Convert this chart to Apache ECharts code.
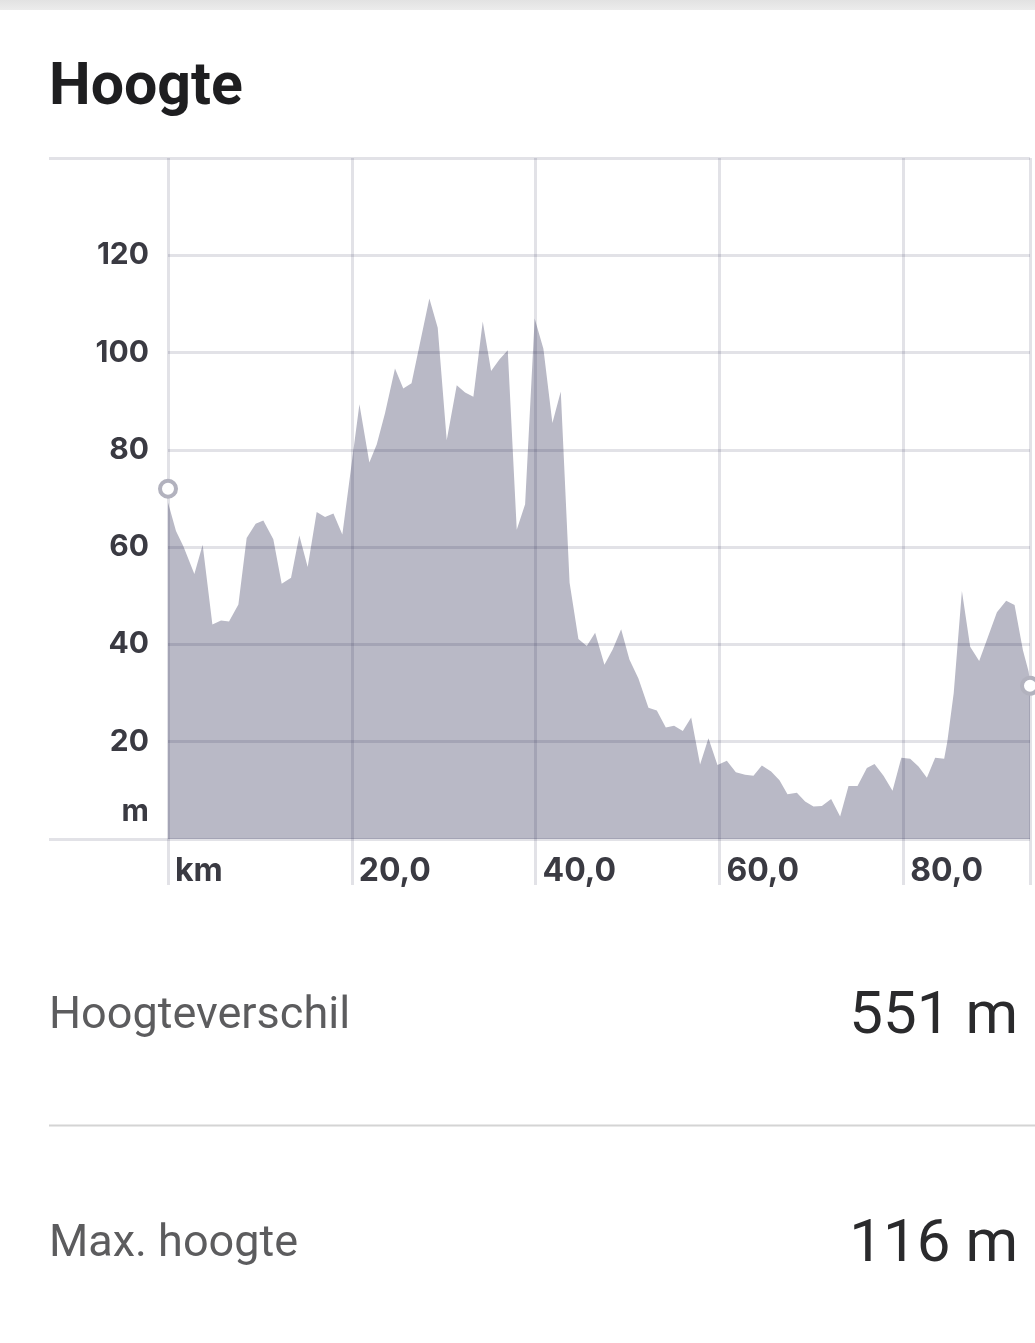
<!DOCTYPE html>
<html><head><meta charset="utf-8">
<script src="https://cdn.jsdelivr.net/npm/echarts@6/dist/echarts.min.js"></script>
<style>html,body{margin:0;padding:0;background:#fff}#c{width:1035px;height:1343px}</style>
</head><body><div id="c"></div>
<script>
const distanceKm = [0, 0.87, 1.67, 2.87, 3.77, 4.83, 5.77, 6.64, 7.66, 8.56, 9.54, 10.37, 11.46, 12.37, 13.39, 14.29, 15.2, 16.18, 17.09, 18.0, 18.97, 20.83, 21.91, 22.71, 23.62, 24.7, 25.6, 26.5, 28.44, 29.35, 30.33, 31.42, 32.33, 33.23, 34.25, 35.16, 36.06, 36.97, 37.95, 38.86, 39.9, 40.85, 41.83, 42.74, 43.7, 44.66, 45.57, 46.48, 47.49, 48.4, 49.31, 50.21, 51.19, 52.28, 53.19, 54.17, 55.07, 56.02, 56.93, 57.9, 58.81, 59.79, 60.81, 61.79, 62.8, 63.71, 64.62, 65.63, 66.54, 67.41, 68.43, 69.33, 70.24, 71.15, 72.16, 73.14, 74.05, 75.03, 76.05, 76.88, 77.86, 78.84, 79.8, 80.76, 81.67, 82.58, 83.48, 84.46, 84.8, 85.5, 86.39, 87.29, 88.27, 89.18, 90.2, 91.21, 92.12, 93.03, 93.64, 93.8];
const elevationM = [69.2, 63.3, 60.2, 54.5, 60.5, 44.1, 44.9, 44.7, 48.2, 61.9, 64.8, 65.5, 61.6, 52.5, 53.7, 62.4, 55.9, 67.2, 66.2, 66.9, 62.6, 89.4, 77.4, 81.1, 87.6, 96.7, 92.6, 93.7, 111.1, 105.1, 82.0, 93.3, 91.8, 90.9, 106.4, 96.2, 98.6, 100.5, 63.6, 68.8, 107.0, 100.8, 85.5, 92.0, 52.7, 41.1, 39.7, 42.4, 35.8, 39.0, 43.1, 36.9, 33.0, 27.0, 26.4, 22.9, 23.3, 22.2, 25.0, 15.3, 20.7, 15.2, 16.1, 13.7, 13.2, 13.0, 15.1, 13.9, 12.1, 9.2, 9.5, 7.7, 6.7, 6.8, 8.2, 4.6, 10.9, 10.9, 14.6, 15.4, 13.0, 9.9, 16.7, 16.5, 14.9, 12.6, 16.7, 16.5, 20.0, 30.0, 51.0, 39.5, 36.6, 41.3, 46.6, 49.0, 48.1, 38.8, 34.5, 32.5];
const endpointKm = [0, 93.8];
const endpointM = [72, 31.5];
const xTickLabels = {0: 'km', 20: '20,0', 40: '40,0', 60: '60,0', 80: '80,0'};
const yTickLabels = {0: 'm', 20: '20', 40: '40', 60: '60', 80: '80', 100: '100', 120: '120'};
const chartTitle = 'Hoogte';
const statLabels = ['Hoogteverschil', 'Max. hoogte'];
const statValues = ['551 m', '116 m'];

const GL = 'rgba(20,20,60,0.12)';
const LW = 3;
const labelColor = '#3a3a42';
const labelFont = 'Inter';

const chart = echarts.init(document.getElementById('c'), null, {renderer: 'canvas'});
chart.setOption({
  animation: false,
  backgroundColor: '#ffffff',
  grid: [
    {left: 168, right: 5, top: 158, bottom: 504},
    {left: 49, right: 5, top: 158, bottom: 504}
  ],
  xAxis: [
    {
      gridIndex: 0, type: 'value', min: 0, max: 93.8, interval: 20, z: 3,
      axisLine: {show: false},
      axisTick: {show: true, length: 46, lineStyle: {color: GL, width: LW}},
      splitLine: {show: true, lineStyle: {color: GL, width: LW}},
      axisLabel: {
        formatter: v => (xTickLabels[v] !== undefined ? xTickLabels[v] : ''),
        align: 'left', verticalAlign: 'top', padding: [0, 0, 0, 7], margin: 16,
        fontFamily: labelFont, fontWeight: 700, fontSize: 32, color: labelColor
      }
    },
    {gridIndex: 1, type: 'value', min: 0, max: 1, show: false}
  ],
  yAxis: [
    {
      gridIndex: 0, type: 'value', min: 0, max: 140, interval: 20, z: 3,
      axisLine: {show: false},
      axisTick: {show: false},
      splitLine: {show: true, showMinLine: false, showMaxLine: false, lineStyle: {color: GL, width: LW}},
      axisLabel: {
        formatter: v => (v === 0 ? '{m|' + yTickLabels[0] + '}' : (yTickLabels[v] !== undefined ? yTickLabels[v] : '')),
        margin: 19,
        fontFamily: labelFont, fontWeight: 700, fontSize: 30, color: labelColor,
        rich: {m: {fontFamily: labelFont, fontWeight: 700, fontSize: 30, color: labelColor, padding: [0, 0, 54, 0]}}
      }
    },
    {
      gridIndex: 1, type: 'value', min: 0, max: 140, interval: 140, z: 3,
      axisLine: {show: false}, axisTick: {show: false}, axisLabel: {show: false},
      splitLine: {show: true, lineStyle: {color: GL, width: LW}}
    }
  ],
  series: [
    {
      type: 'line', xAxisIndex: 0, yAxisIndex: 0,
      data: distanceKm.map((d, i) => [d, elevationM[i]]),
      symbol: 'none', silent: true, z: 2,
      lineStyle: {width: 0, opacity: 0},
      areaStyle: {color: '#b9b9c6', opacity: 1}
    },
    {
      type: 'scatter', xAxisIndex: 0, yAxisIndex: 0,
      data: endpointKm.map((d, i) => [d, endpointM[i]]),
      symbol: 'circle', symbolSize: 16, clip: false, z: 5, silent: true,
      itemStyle: {color: '#ffffff', borderColor: '#b2b2be', borderWidth: 4, opacity: 1}
    }
  ],
  graphic: [
    {type: 'rect', left: 0, top: 0, shape: {width: 1035, height: 10},
     style: {fill: new echarts.graphic.LinearGradient(0, 0, 0, 1, [{offset: 0, color: '#e2e2e2'}, {offset: 1, color: '#ececec'}])}},
    {type: 'text', x: 49, y: 89, style: {text: chartTitle, font: 'bold 59px Roboto', fill: '#1e1e20', textVerticalAlign: 'middle'}},
    {type: 'text', x: 49, y: 1017, style: {text: statLabels[0], font: '45px Roboto', fill: '#5c5c5e', textVerticalAlign: 'middle'}},
    {type: 'text', x: 1018, y: 1018, style: {text: statValues[0], font: '60px Roboto', fill: '#2a2a2c', textAlign: 'right', textVerticalAlign: 'middle'}},
    {type: 'line', shape: {x1: 49, y1: 1125.5, x2: 1035, y2: 1125.5}, style: {stroke: '#d4d4d4', lineWidth: 2}},
    {type: 'text', x: 49, y: 1245, style: {text: statLabels[1], font: '45px Roboto', fill: '#5c5c5e', textVerticalAlign: 'middle'}},
    {type: 'text', x: 1018, y: 1246, style: {text: statValues[1], font: '60px Roboto', fill: '#2a2a2c', textAlign: 'right', textVerticalAlign: 'middle'}}
  ]
});
</script>
</body></html>
